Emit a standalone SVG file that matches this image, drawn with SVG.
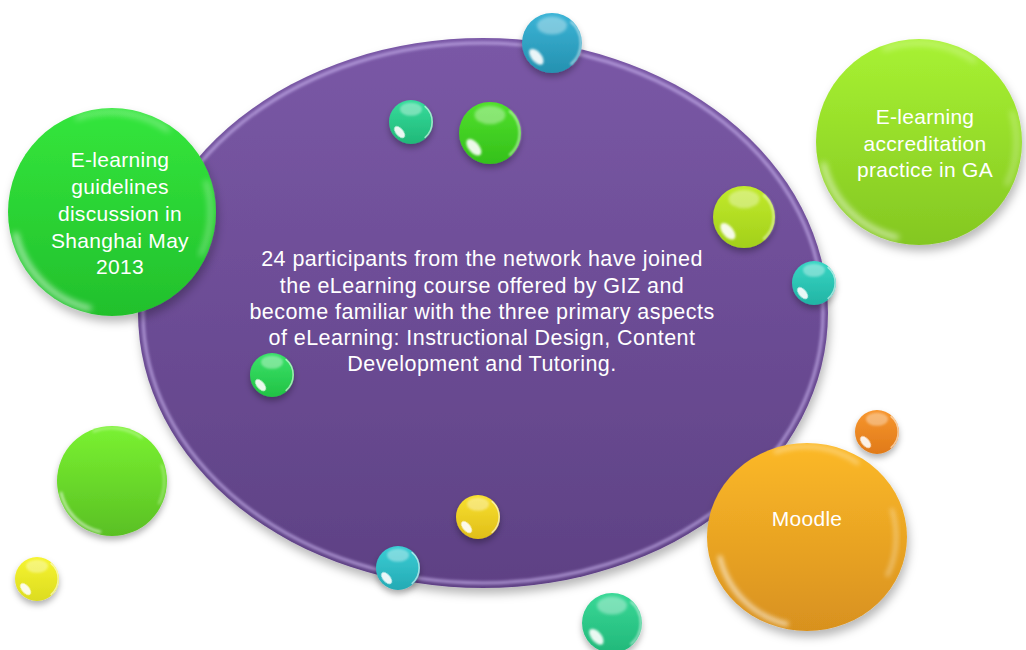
<svg xmlns="http://www.w3.org/2000/svg" width="1026" height="650" viewBox="0 0 1026 650">
<defs>
<style>
.t{font-family:"Liberation Sans",Arial,sans-serif;fill:#fff;text-anchor:middle;font-size:21px;letter-spacing:0.3px}
.c{font-family:"Liberation Sans",Arial,sans-serif;fill:#fff;text-anchor:middle;font-size:21.5px;letter-spacing:0.45px}
</style>
<filter id="sh" x="-30%" y="-30%" width="160%" height="170%"><feDropShadow dx="0" dy="4" stdDeviation="3" flood-color="#000" flood-opacity="0.3"/></filter>
<filter id="shb" x="-20%" y="-20%" width="140%" height="150%"><feDropShadow dx="2" dy="6" stdDeviation="5" flood-color="#000" flood-opacity="0.28"/></filter>
<filter id="bl1" x="-50%" y="-50%" width="200%" height="200%"><feGaussianBlur stdDeviation="0.06"/></filter>
<filter id="bl2" x="-50%" y="-50%" width="200%" height="200%"><feGaussianBlur stdDeviation="0.03"/></filter>
<filter id="rimb" x="-10%" y="-10%" width="120%" height="120%"><feGaussianBlur stdDeviation="1.5"/></filter>
<linearGradient id="gPurple" x1="0" y1="0" x2="0" y2="1"><stop offset="0" stop-color="#7a58a6"/><stop offset="1" stop-color="#5e4184"/></linearGradient>
<linearGradient id="gGreenL" x1="0" y1="0" x2="0" y2="1"><stop offset="0" stop-color="#34e63c"/><stop offset="1" stop-color="#22c02c"/></linearGradient>
<linearGradient id="gLime" x1="0" y1="0" x2="0" y2="1"><stop offset="0" stop-color="#a8f232"/><stop offset="1" stop-color="#84c722"/></linearGradient>
<linearGradient id="gOrange" x1="0" y1="0" x2="0" y2="1"><stop offset="0" stop-color="#fcb928"/><stop offset="1" stop-color="#d8911f"/></linearGradient>
<linearGradient id="gGreenB" x1="0" y1="0" x2="0" y2="1"><stop offset="0" stop-color="#7af231"/><stop offset="1" stop-color="#5ac024"/></linearGradient>
<linearGradient id="bBlue" x1="0" y1="0" x2="0" y2="1"><stop offset="0" stop-color="#3bb4d6"/><stop offset="1" stop-color="#2591b0"/></linearGradient>
<linearGradient id="bMint" x1="0" y1="0" x2="0" y2="1"><stop offset="0" stop-color="#36dc9c"/><stop offset="1" stop-color="#20b878"/></linearGradient>
<linearGradient id="bGreen" x1="0" y1="0" x2="0" y2="1"><stop offset="0" stop-color="#50e02c"/><stop offset="1" stop-color="#34c01a"/></linearGradient>
<linearGradient id="bYG" x1="0" y1="0" x2="0" y2="1"><stop offset="0" stop-color="#c2ea2c"/><stop offset="1" stop-color="#a2d01a"/></linearGradient>
<linearGradient id="bTeal" x1="0" y1="0" x2="0" y2="1"><stop offset="0" stop-color="#38d6c4"/><stop offset="1" stop-color="#22b4a4"/></linearGradient>
<linearGradient id="bGreen2" x1="0" y1="0" x2="0" y2="1"><stop offset="0" stop-color="#3ae26a"/><stop offset="1" stop-color="#22c244"/></linearGradient>
<linearGradient id="bOrange" x1="0" y1="0" x2="0" y2="1"><stop offset="0" stop-color="#f7962e"/><stop offset="1" stop-color="#e07a18"/></linearGradient>
<linearGradient id="bYellow" x1="0" y1="0" x2="0" y2="1"><stop offset="0" stop-color="#f8e030"/><stop offset="1" stop-color="#e0be18"/></linearGradient>
<linearGradient id="bYellow2" x1="0" y1="0" x2="0" y2="1"><stop offset="0" stop-color="#f6f430"/><stop offset="1" stop-color="#dcdc20"/></linearGradient>
<linearGradient id="bCyan" x1="0" y1="0" x2="0" y2="1"><stop offset="0" stop-color="#3acdd4"/><stop offset="1" stop-color="#24aab4"/></linearGradient>
<linearGradient id="bMint2" x1="0" y1="0" x2="0" y2="1"><stop offset="0" stop-color="#38d896"/><stop offset="1" stop-color="#22b87a"/></linearGradient>
<symbol id="gloss" viewBox="-1 -1 2 2" overflow="visible">
<ellipse cx="0" cy="-0.58" rx="0.5" ry="0.3" fill="#fff" opacity="0.35" filter="url(#bl1)"/>
<path d="M0.62,-0.72 A0.93,0.93 0 0 1 0.62,0.72" fill="none" stroke="#fff" stroke-width="0.07" opacity="0.55" filter="url(#bl2)"/>
<ellipse cx="0" cy="0" rx="0.32" ry="0.17" transform="translate(-0.52,0.46) rotate(50)" fill="#fff" opacity="0.9" filter="url(#bl2)"/>
</symbol>
<symbol id="glossBig" viewBox="-1 -1 2 2" overflow="visible">
<path d="M-0.35,-0.9 A0.96,0.96 0 0 1 0.55,-0.78" fill="none" stroke="#fff" stroke-width="0.035" opacity="0.45" filter="url(#bl2)"/>
<path d="M-0.93,0.2 A0.95,0.95 0 0 0 -0.2,0.93" fill="none" stroke="#fff" stroke-width="0.04" opacity="0.75" filter="url(#bl2)"/>
<path d="M0.9,-0.3 A0.95,0.95 0 0 1 0.85,0.42" fill="none" stroke="#fff" stroke-width="0.03" opacity="0.5" filter="url(#bl2)"/>
</symbol>
</defs>

<g id="center-node">
<ellipse cx="483" cy="313" rx="345" ry="275" fill="url(#gPurple)" filter="url(#shb)"/>
<ellipse cx="483" cy="313" rx="340" ry="270" fill="none" stroke="#cdb8f2" stroke-width="3" opacity="0.7" filter="url(#rimb)"/>
<text class="c"><tspan x="482" y="266">24 participants from the network have joined</tspan><tspan x="482" y="292.5">the eLearning course offered by GIZ and</tspan><tspan x="482" y="318.5">become familiar with the three primary aspects</tspan><tspan x="482" y="345">of eLearning: Instructional Design, Content</tspan><tspan x="482" y="371">Development and Tutoring.</tspan></text>
</g>

<g id="node-shanghai">
<circle cx="112" cy="212" r="104" fill="url(#gGreenL)" filter="url(#shb)"/>
<use href="#glossBig" x="8" y="108" width="208" height="208"/>
<text class="t"><tspan x="120" y="167">E-learning</tspan><tspan x="120" y="194">guidelines</tspan><tspan x="120" y="221">discussion in</tspan><tspan x="120" y="248">Shanghai May</tspan><tspan x="120" y="274">2013</tspan></text>
</g>

<g id="node-accreditation">
<circle cx="919" cy="142" r="103" fill="url(#gLime)" filter="url(#shb)"/>
<use href="#glossBig" x="816" y="39" width="206" height="206"/>
<text class="t"><tspan x="925" y="124">E-learning</tspan><tspan x="925" y="150.5">accreditation</tspan><tspan x="925" y="177">practice in GA</tspan></text>
</g>

<g id="node-moodle">
<ellipse cx="807" cy="537" rx="100" ry="94" fill="url(#gOrange)" filter="url(#shb)"/>
<use href="#glossBig" x="707" y="443" width="200" height="188" preserveAspectRatio="none"/>
<text class="t" x="807" y="526">Moodle</text>
</g>

<g id="decor-green-big">
<circle cx="112" cy="481" r="55" fill="url(#gGreenB)" filter="url(#sh)"/>
<use href="#glossBig" x="57" y="426" width="110" height="110"/>
</g>

<g id="balls">
<g filter="url(#sh)">
<circle cx="552" cy="43" r="30" fill="url(#bBlue)"/>
<circle cx="411" cy="122" r="22" fill="url(#bMint)"/>
<circle cx="490" cy="133" r="31" fill="url(#bGreen)"/>
<circle cx="744" cy="217" r="31" fill="url(#bYG)"/>
<circle cx="814" cy="283" r="22" fill="url(#bTeal)"/>
<circle cx="272" cy="375" r="22" fill="url(#bGreen2)"/>
<circle cx="877" cy="432" r="22" fill="url(#bOrange)"/>
<circle cx="478" cy="517" r="22" fill="url(#bYellow)"/>
<circle cx="398" cy="568" r="22" fill="url(#bCyan)"/>
<circle cx="37" cy="579" r="22" fill="url(#bYellow2)"/>
<circle cx="612" cy="623" r="30" fill="url(#bMint2)"/>
</g>
<use href="#gloss" x="522" y="13" width="60" height="60"/>
<use href="#gloss" x="389" y="100" width="44" height="44"/>
<use href="#gloss" x="459" y="102" width="62" height="62"/>
<use href="#gloss" x="713" y="186" width="62" height="62"/>
<use href="#gloss" x="792" y="261" width="44" height="44"/>
<use href="#gloss" x="250" y="353" width="44" height="44"/>
<use href="#gloss" x="855" y="410" width="44" height="44"/>
<use href="#gloss" x="456" y="495" width="44" height="44"/>
<use href="#gloss" x="376" y="546" width="44" height="44"/>
<use href="#gloss" x="15" y="557" width="44" height="44"/>
<use href="#gloss" x="582" y="593" width="60" height="60"/>
</g>
</svg>
